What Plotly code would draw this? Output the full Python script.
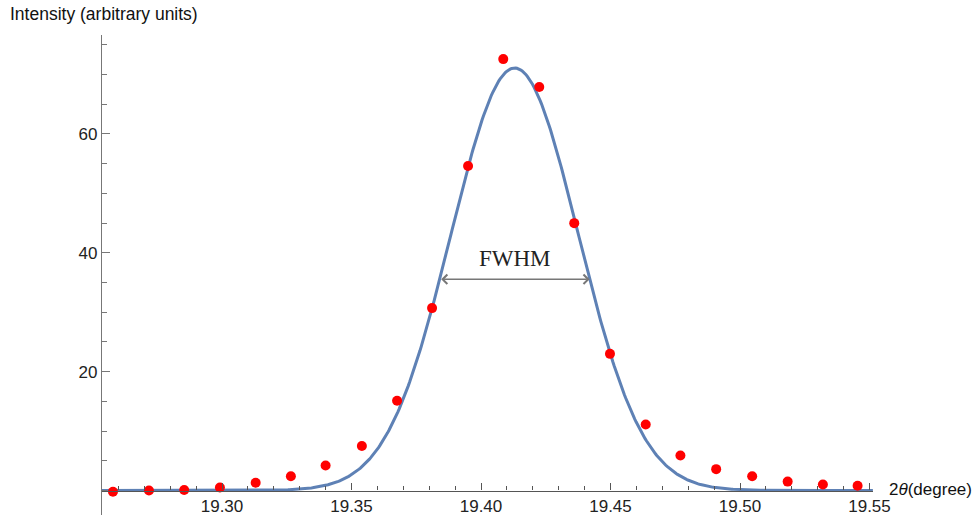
import numpy as np
import plotly.graph_objects as go

# Observed intensities (red points)
two_theta_obs = [19.2579, 19.2718, 19.2854, 19.2992, 19.3130, 19.3266, 19.3400, 19.3540,
                 19.3676, 19.3811, 19.3950, 19.4086, 19.4225, 19.4360, 19.4498, 19.4636,
                 19.4770, 19.4908, 19.5047, 19.5184, 19.5320, 19.5454]
intensity_obs = [-0.2, 0.0, 0.1, 0.5, 1.3, 2.4, 4.2, 7.5,
                 15.1, 30.7, 54.6, 72.6, 67.9, 45.0, 23.0, 11.1,
                 5.9, 3.6, 2.4, 1.5, 1.0, 0.8]

# Gaussian fit parameters (blue curve)
fit_amplitude = 71.1
fit_center = 19.4130
fit_sigma = 0.02459
fit_span = [19.252, 19.5513]

x_ticks = [19.30, 19.35, 19.40, 19.45, 19.50, 19.55]
x_tick_labels = ["19.30", "19.35", "19.40", "19.45", "19.50", "19.55"]
y_ticks = [20, 40, 60]
y_tick_labels = ["20", "40", "60"]

x_fit = np.linspace(fit_span[0], fit_span[1], 600)
y_fit = fit_amplitude * np.exp(-0.5 * ((x_fit - fit_center) / fit_sigma) ** 2)
fwhm = 2 * np.sqrt(2 * np.log(2)) * fit_sigma
half_max = fit_amplitude / 2

y_lo, y_hi = -4.12, 76.66
x_axis_pos = (0 - y_lo) / (y_hi - y_lo)

fig = go.Figure()
fig.add_trace(go.Scatter(x=x_fit, y=y_fit, mode="lines",
                         line=dict(color="#5E81B5", width=3), hoverinfo="skip"))
fig.add_trace(go.Scatter(x=two_theta_obs, y=intensity_obs, mode="markers",
                         marker=dict(color="#FF0000", size=10), cliponaxis=False))

font_main = "Liberation Sans, Arial, sans-serif"
fig.update_layout(
    width=977, height=516,
    margin=dict(l=102, r=104, t=35, b=1),
    paper_bgcolor="white", plot_bgcolor="white",
    showlegend=False,
    font=dict(family=font_main, size=17, color="#222"),
    xaxis=dict(range=[19.25367, 19.55135], showgrid=False, zeroline=False,
               anchor="free", position=x_axis_pos, automargin=False,
               showline=True, linecolor="#555", linewidth=1.3,
               tickmode="array", tickvals=x_ticks, ticktext=x_tick_labels,
               ticks="inside", ticklen=7, tickwidth=1.2, tickcolor="#555",
               minor=dict(tickmode="linear", tick0=19.25, dtick=0.01, ticks="inside",
                          ticklen=4, tickwidth=1, tickcolor="#555"),
               tickfont=dict(size=17, color="#222")),
    yaxis=dict(range=[y_lo, y_hi], showgrid=False, zeroline=False, automargin=False,
               showline=True, linecolor="#777", linewidth=1.3,
               tickmode="array", tickvals=y_ticks, ticktext=y_tick_labels,
               ticks="inside", ticklen=7.5, tickwidth=1.2, tickcolor="#777",
               minor=dict(tickmode="linear", tick0=0, dtick=5, ticks="inside",
                          ticklen=4.5, tickwidth=1, tickcolor="#777"),
               tickfont=dict(size=17, color="#222")),
)

# Axis titles
fig.add_annotation(xref="paper", yref="paper", x=-94/771, y=1 + 21/480,
                   xanchor="left", yanchor="middle", showarrow=False,
                   text="Intensity (arbitrary units)",
                   font=dict(family=font_main, size=17.5, color="#111"))
fig.add_annotation(xref="paper", yref="y", x=1 + 14/771, y=0.2,
                   xanchor="left", yanchor="middle", showarrow=False,
                   text="2<i>θ</i>(degree)",
                   font=dict(family=font_main, size=17, color="#111"))

# FWHM double arrow
fig.add_annotation(x=fit_center + fwhm / 2, y=half_max, ax=fit_center - fwhm / 2, ay=half_max,
                   xref="x", yref="y", axref="x", ayref="y", text="",
                   showarrow=True, arrowside="end+start", arrowhead=4, arrowsize=1.3,
                   arrowwidth=1.4, arrowcolor="#777")
fig.add_annotation(x=fit_center, y=half_max, xref="x", yref="y", yshift=21,
                   showarrow=False, text="FWHM",
                   font=dict(family="Liberation Serif, Times New Roman, serif", size=23, color="#222"))

fig.write_html("out.html")
